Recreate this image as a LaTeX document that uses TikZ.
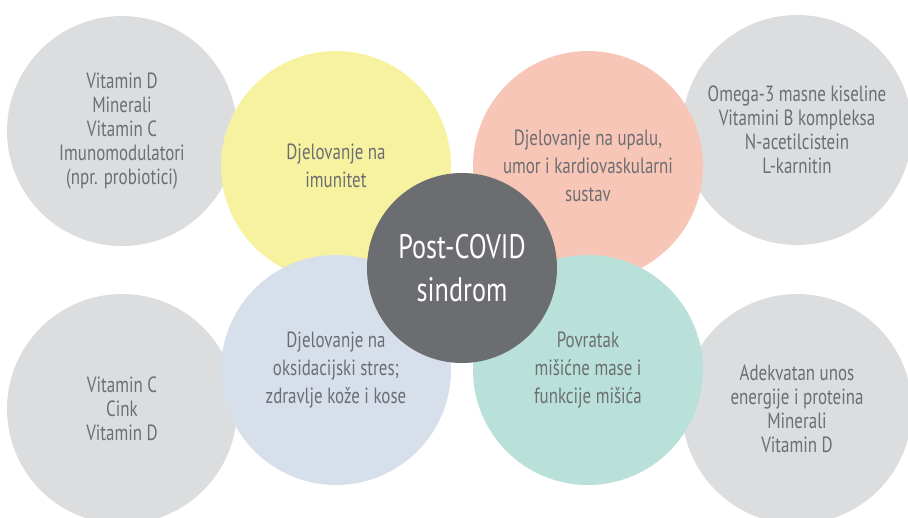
\documentclass[tikz,border=0pt]{standalone}
\usepackage{fontspec}
\setmainfont{PT Sans}[FakeStretch=0.77]
\definecolor{textgray}{HTML}{6D6E71}
\definecolor{sidegray}{HTML}{DCDDDF}
\definecolor{imunyellow}{HTML}{F7F2A0}
\definecolor{upalasalmon}{HTML}{F8C6B7}
\definecolor{stresblue}{HTML}{D7DFEB}
\definecolor{misicmint}{HTML}{B9E1DA}
\definecolor{coregray}{HTML}{6C6D71}

\begin{document}
\begin{tikzpicture}[x = 1pt, y = -1pt,
    bubble/.style = {shape = circle, minimum size = 230pt, inner sep = 0pt, align = center, text = textgray},
    side/.style = {bubble, fill = sidegray, font = \fontsize{22}{24}\selectfont},
    topic/.style = {bubble, font = \fontsize{22}{28}\selectfont}]
    \useasboundingbox (0,0) rectangle (908,517);
    \clip (0,0) rectangle (908,517);

    % outer circles
    \node [side] (GI) at (122,131) {Vitamin D\\Minerali\\Vitamin C\\Imunomodulatori\\(npr. probiotici)};
    \node [side] (GU) at (797,130) {Omega-3 masne kiseline\\Vitamini B kompleksa\\N-acetilcistein\\L-karnitin};
    \node [side] (GO) at (122,409) {Vitamin C\\Cink\\Vitamin D};
    \node [side] (GM) at (797,409) {Adekvatan unos\\energije i proteina\\Minerali\\Vitamin D};

    % inner circles
    \node [topic, fill = imunyellow] (I) at (336,166) {Djelovanje na\\imunitet};
    \node [topic, fill = upalasalmon] (U) at (588,166) {Djelovanje na upalu,\\umor i kardiovaskularni\\sustav};
    \node [topic, fill = stresblue] (O) at (336,370) {Djelovanje na\\oksidacijski stres;\\zdravlje kože i kose};
    \node [topic, fill = misicmint] (M) at (588,370) {Povratak\\mišićne mase i\\funkcije mišića};

    \node [shape = circle, minimum size = 190pt, inner sep = 0pt, fill = coregray, text = white, align = center,
        font = \fontsize{34}{43}\selectfont] (P) at (462,268) {Post-COVID\\sindrom};
\end{tikzpicture}
\end{document}
